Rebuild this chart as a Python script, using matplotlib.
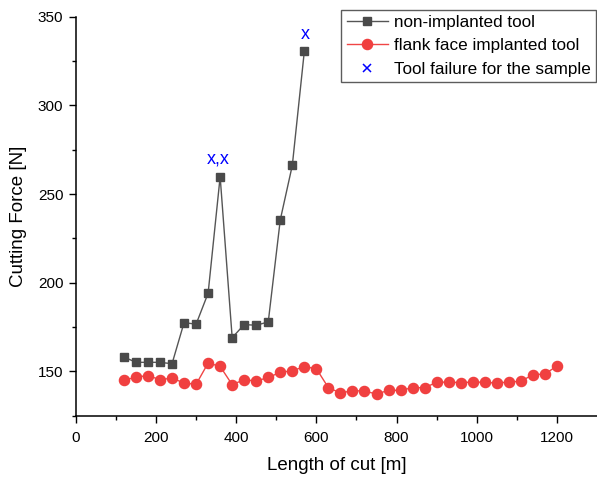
import numpy as np
import matplotlib
matplotlib.use("Agg")
import matplotlib.pyplot as plt

plt.rcParams['font.family'] = ['Liberation Sans', 'DejaVu Sans']

# non-implanted tool
x_non = [120, 150, 180, 210, 240, 270, 300, 330, 360, 390, 420, 450, 480, 510, 540, 570]
f_non = [158.1, 155.1, 155.1, 155.1, 154.3, 177.5, 176.6, 194.1, 259.8, 169.0, 176.4, 176.0, 177.9, 235.5, 266.2, 330.6]

# flank face implanted tool
x_imp = [120, 150, 180, 210, 240, 270, 300, 330, 360, 390, 420, 450, 480, 510, 540, 570,
         600, 630, 660, 690, 720, 750, 780, 810, 840, 870, 900, 930, 960, 990, 1020, 1050,
         1080, 1110, 1140, 1170, 1200]
f_imp = [144.9, 146.8, 147.6, 145.3, 146.2, 143.4, 142.7, 154.7, 152.8, 142.5, 145.3, 144.5,
         146.6, 149.4, 150.4, 152.6, 151.5, 140.8, 137.8, 139.1, 138.9, 137.2, 139.3, 139.3,
         140.8, 140.8, 143.8, 144.0, 143.6, 144.0, 143.8, 143.4, 144.0, 144.4, 148.1, 148.5, 153.0]

# tool failure marks
fail_labels = ["x,x", "x"]
fail_x = [356, 573]
fail_y = [270, 340]

fig = plt.figure(figsize=(5.97, 4.80), dpi=100)
ax = fig.add_axes([0.127, 0.134, 0.873, 0.831])

ax.plot(x_non, f_non, color='#555555', lw=1.0, marker='s', ms=5.6,
        mfc='#4a4a4a', mec='#4a4a4a', label='non-implanted tool')
ax.plot(x_imp, f_imp, color='#f04545', lw=1.0, marker='o', ms=7.3,
        mfc='#f04040', mec='#f04040', label='flank face implanted tool')
ax.plot([], [], ls='none', marker='x', color='blue', ms=5.5, mew=1.1,
        label='Tool failure for the sample')

for lab, xx, yy in zip(fail_labels, fail_x, fail_y):
    ax.text(xx, yy, lab, color='blue', fontsize=13, ha='center', va='center')

ax.set_xlim(0, 1300)
ax.set_ylim(125, 350)
ax.set_xticks([0, 200, 400, 600, 800, 1000, 1200])
ax.set_xticks(np.arange(100, 1300, 200), minor=True)
ax.set_yticks([150, 200, 250, 300, 350])
ax.set_yticks([125, 175, 225, 275, 325], minor=True)
ax.tick_params(direction='out', labelsize=11, width=1, length=5)
ax.tick_params(axis='x', pad=6)
ax.tick_params(axis='y', pad=4)
ax.tick_params(which='minor', direction='out', width=1, length=3)

ax.spines['top'].set_visible(False)
ax.spines['right'].set_visible(False)
for s in ['left', 'bottom']:
    ax.spines[s].set_linewidth(1.1)

ax.set_xlabel('Length of cut [m]', fontsize=13.5, labelpad=9)
ax.set_ylabel('Cutting Force [N]', fontsize=13.5, labelpad=8)

leg = ax.legend(loc='upper right', bbox_to_anchor=(0.999, 0.98), bbox_transform=fig.transFigure,
                fontsize=12.3, frameon=True, fancybox=False, edgecolor='#333333',
                borderpad=0.3, handlelength=2.4, handletextpad=0.4, labelspacing=0.5,
                borderaxespad=0.0)
leg.get_frame().set_linewidth(1.0)

fig.savefig('out.png', dpi=100)
